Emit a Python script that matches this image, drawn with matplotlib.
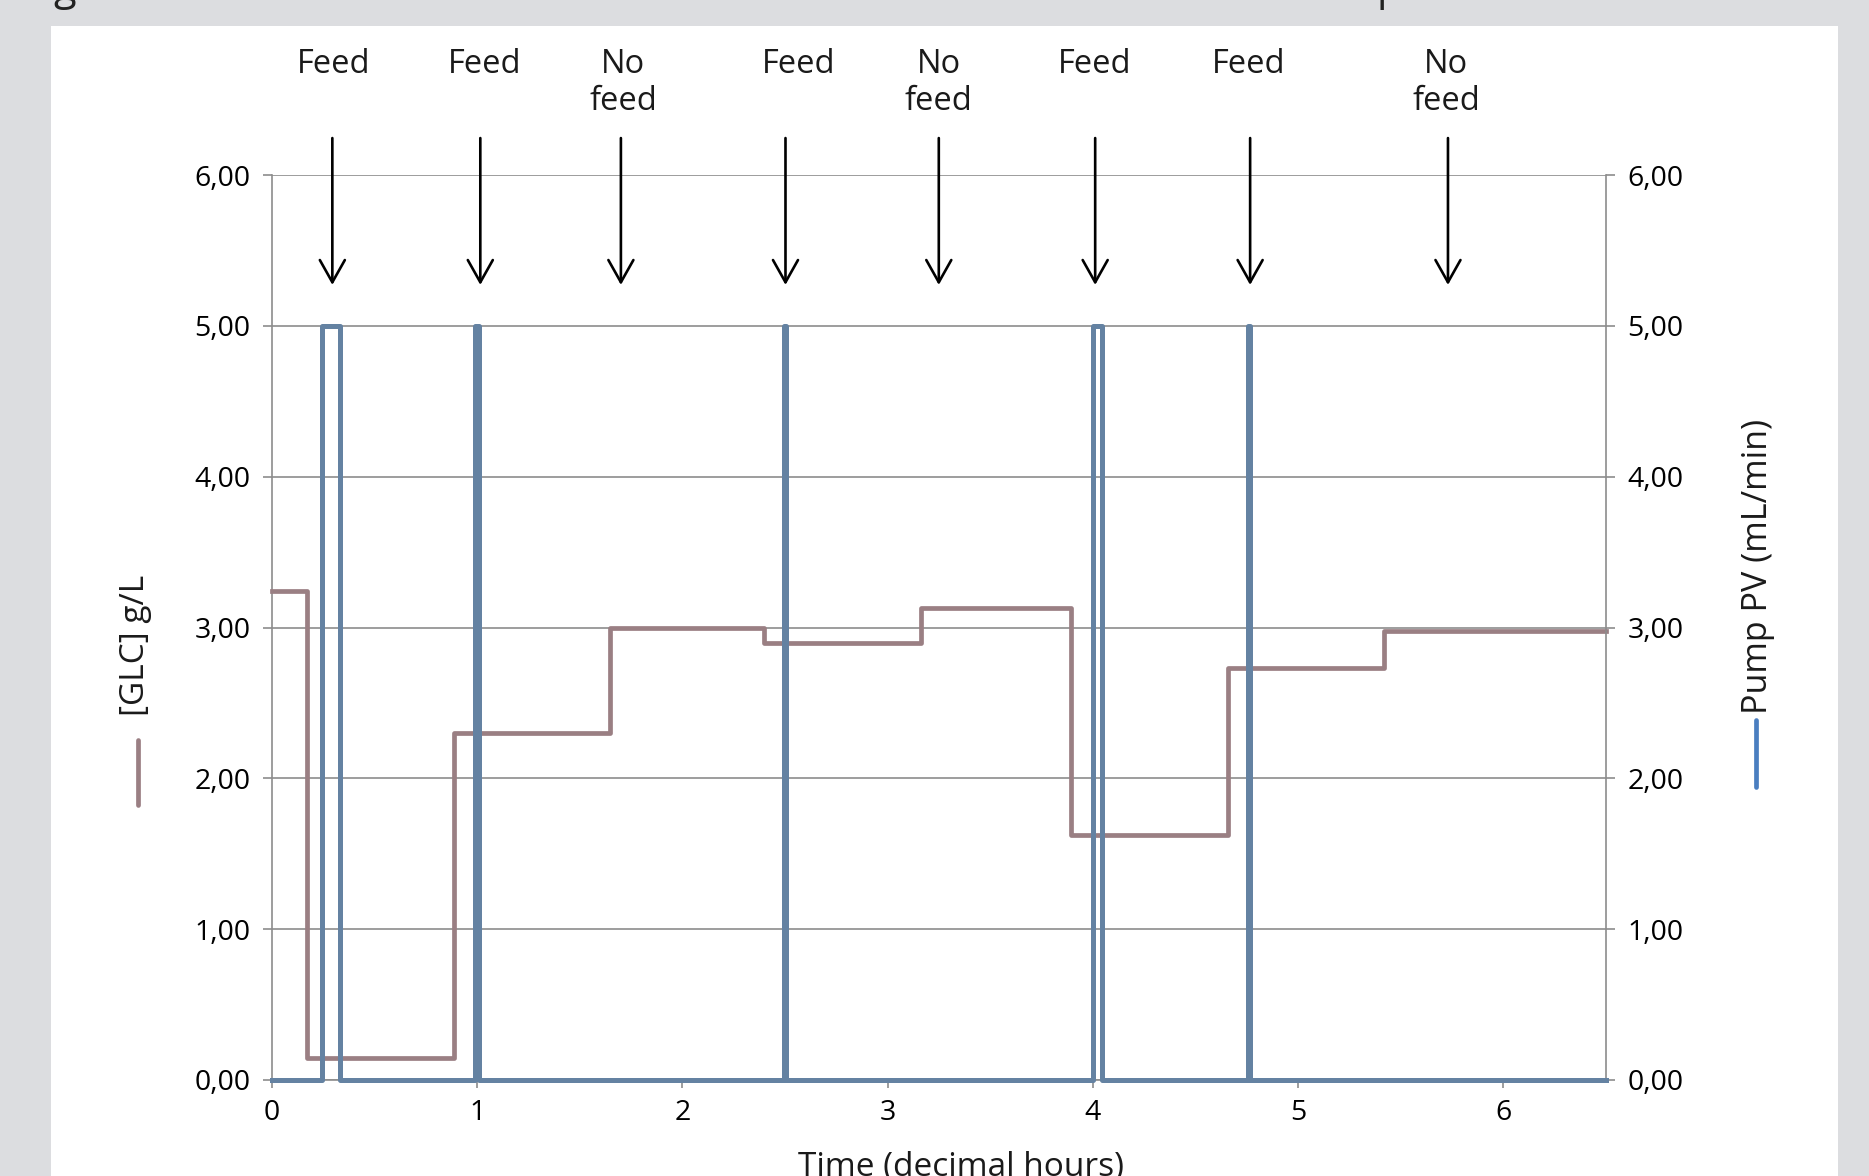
import matplotlib
matplotlib.use('Agg')
import matplotlib.pyplot as plt
from matplotlib.lines import Line2D
from matplotlib.patches import Rectangle
from matplotlib.ticker import FuncFormatter

plt.rcParams['font.family'] = ['Open Sans', 'DejaVu Sans']

# glucose concentration, step changes (hours, g/L)
glc_time = [0, 0.172, 0.887, 1.645, 2.395, 3.163, 3.892, 4.66, 5.42, 6.5]
glc_value = [3.24, 0.145, 2.30, 3.00, 2.90, 3.13, 1.627, 2.73, 2.98, 2.98]

# pump PV, step changes (hours, mL/min)
pump_time = [0, 0.242, 0.331, 0.988, 1.009, 2.497, 2.503, 3.998, 4.046, 4.757, 4.763, 6.5]
pump_value = [0, 5, 0, 5, 0, 5, 0, 5, 0, 5, 0, 0]

# feed annotations
event_labels = ['Feed', 'Feed', 'No\nfeed', 'Feed', 'No\nfeed', 'Feed', 'Feed', 'No\nfeed']
arrow_x = [0.294, 1.015, 1.70, 2.502, 3.249, 4.011, 4.766, 5.73]
label_x = [0.30, 1.038, 1.712, 2.566, 3.249, 4.006, 4.757, 5.72]

y_ticks = [0, 1, 2, 3, 4, 5, 6]
x_ticks = [0, 1, 2, 3, 4, 5, 6]

W, H = 1869, 1176
grey = '#8c8c8c'
glc_color = '#9a7f83'
pump_color = '#6482a2'

fig = plt.figure(figsize=(W / 100, H / 100), dpi=100, facecolor='#dcdde0')
fig.add_artist(Rectangle((51 / W, 0), (1838 - 51) / W, 1 - 26 / H,
                         transform=fig.transFigure, facecolor='white',
                         edgecolor='none', zorder=-1))

# bits of the title above, cut off by the crop
fig.text(53 / W, 1.0, 'g', fontsize=30, va='baseline', ha='left', color='#222222')
fig.text(1377 / W, 1.0, 'p', fontsize=30, va='baseline', ha='left', color='#222222')

ax = fig.add_axes([272 / W, 1 - 1080 / H, (1606 - 272) / W, (1080 - 175) / H])
ax2 = ax.twinx()

fmt = FuncFormatter(lambda v, p: f'{v:.2f}'.replace('.', ','))
for a in (ax, ax2):
    a.set_xlim(0, 6.5)
    a.set_ylim(0, 6)
    a.set_yticks(y_ticks)
    a.yaxis.set_major_formatter(fmt)
    a.spines['top'].set_visible(False)
    a.tick_params(axis='y', length=6.5, width=1.2, color=grey, labelsize=20.5, pad=9)
    a.tick_params(axis='x', length=6, width=1.2, color=grey, labelsize=20.5, pad=8)

ax.set_xticks(x_ticks)
ax.set_xticklabels([str(t) for t in x_ticks])
ax.spines['right'].set_visible(False)
for s in ('left', 'bottom'):
    ax.spines[s].set_color(grey)
    ax.spines[s].set_linewidth(1.2)
for s in ('left', 'bottom'):
    ax2.spines[s].set_visible(False)
ax2.spines['right'].set_color(grey)
ax2.spines['right'].set_linewidth(1.2)

ax.set_axisbelow(True)
ax.grid(axis='y', color=grey, linewidth=1.2)

ax.step(glc_time, glc_value, where='post', color=glc_color, linewidth=3.4,
        clip_on=False, zorder=3)
ax2.step(pump_time, pump_value, where='post', color=pump_color, linewidth=3.6,
         clip_on=False, zorder=3)

for xa, xl, lab in zip(arrow_x, label_x, event_labels):
    ax2.annotate('', xy=(xa, 5.271), xytext=(xa, 6.245), annotation_clip=False,
                 arrowprops=dict(arrowstyle='->,head_length=0.8,head_width=0.45',
                                 color='black', lw=1.9, shrinkA=0, shrinkB=0,
                                 mutation_scale=20))
    ax2.text(xl, 6.842, lab, ha='center', va='top', fontsize=23.5,
             linespacing=1.15, color='#1a1a1a', clip_on=False)

fig.text(961 / W, 1 - 1151 / H, 'Time (decimal hours)', ha='center', va='top',
         fontsize=24, color='#1a1a1a')
fig.text(135 / W, 1 - 645 / H, '[GLC] g/L', rotation=90, ha='center', va='center',
         fontsize=24, color='#1a1a1a')
fig.text(1758 / W, 1 - 566 / H, 'Pump PV (mL/min)', rotation=90, ha='center',
         va='center', fontsize=24.5, color='#1a1a1a')

# legend keys under the axis titles
fig.add_artist(Line2D([138 / W, 138 / W], [1 - 740 / H, 1 - 805 / H], color=glc_color,
                      linewidth=3.4, solid_capstyle='round', transform=fig.transFigure))
fig.add_artist(Line2D([1756 / W, 1756 / W], [1 - 720 / H, 1 - 787 / H], color='#4a7ec0',
                      linewidth=3.4, solid_capstyle='round', transform=fig.transFigure))

fig.savefig('out.png', dpi=100, facecolor=fig.get_facecolor())
